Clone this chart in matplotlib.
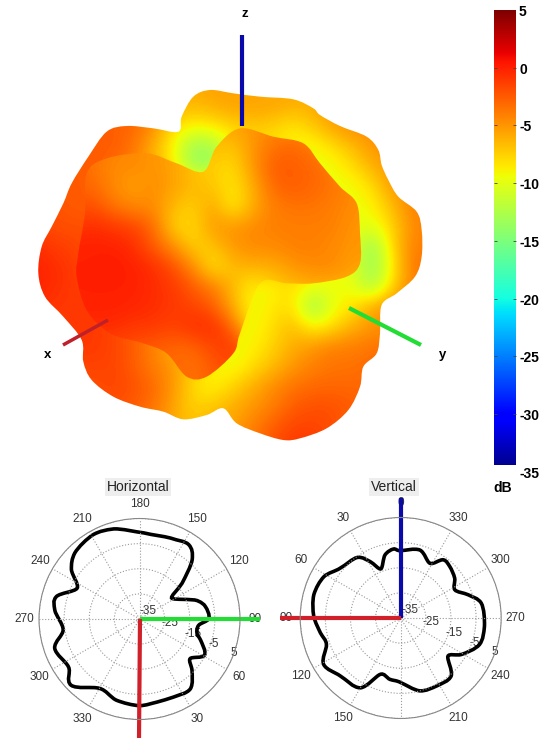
import numpy as np
import matplotlib
matplotlib.use("Agg")
import matplotlib.pyplot as plt
from matplotlib.patches import PathPatch
from matplotlib.path import Path

plt.rcParams['font.family'] = ['Liberation Sans', 'DejaVu Sans']

W, H = 539, 738

# --- pattern surface (x, y in picture pixels times 3, value in dB)
grid_x = [40, 100, 160, 220, 280, 340, 400, 460, 520, 580, 640, 700, 760, 820, 880, 940, 1000, 1060, 1120, 1180, 1240]
grid_y = [260, 320, 380, 440, 500, 560, 620, 680, 740, 800, 860, 920, 980, 1040, 1100, 1160, 1220, 1280, 1340]

back_db = [
    [-5, -5, -5, -5, -4, -3, -4, -6, -6, -5.5, -5.5, -6, -6, -6, -6, -5, -5, -5, -5, -5, -5],
    [-4, -4, -4, -3.5, -3, -3, -4, -6, -6.5, -6, -5.5, -5.5, -5.5, -6, -6, -5, -5, -5, -5, -5, -5],
    [-3, -3, -3, -2.5, -2.5, -3, -4.5, -8, -9, -8.5, -7.5, -7, -7.5, -8.5, -7, -5.5, -4.5, -4.5, -4.5, -4.5, -4.5],
    [-2.5, -2.5, -2.5, -2.5, -2.5, -3.5, -6, -9, -13.5, -13, -9, -8, -8, -9, -9.5, -8, -6.5, -5, -4.5, -4.5, -4.5],
    [-2.5, -2.5, -2.5, -2.5, -3, -4, -6, -8.5, -13.5, -13.5, -9, -8, -8, -9, -9.5, -9.5, -8, -6, -5, -4.5, -4.5],
    [-2.5, -2.5, -2.5, -2.5, -3, -4, -5, -6, -7, -7, -7, -7, -7, -8, -9, -9.5, -9.5, -8, -5, -4.5, -4.5],
    [-2, -2, -2.5, -2.5, -3, -4, -5, -6, -6, -6, -6, -6, -6, -7, -8, -9, -9.5, -9, -6.5, -4, -4],
    [-1.5, -2, -2, -2, -3, -4, -5, -6, -6, -6, -6, -6, -6, -7, -8, -9, -9.5, -10, -7.5, -4.5, -4],
    [-0.5, -1, -1.5, -2, -3, -4, -5, -6, -6, -6, -6, -6, -6, -7, -8, -9, -10, -14, -7.5, -4, -4],
    [0, -0.5, -1, -2, -3, -4, -5, -6, -6, -6, -6, -6, -6, -7, -8, -9, -10, -14, -8.5, -3.5, -3.5],
    [0, -0.5, -1, -1.5, -3, -4, -5, -6, -6, -6, -7, -9.5, -9, -8, -9.5, -9.5, -9.5, -13, -7.5, -4, -4],
    [-0.5, -1, -1, -1, -1.5, -2.5, -4, -6, -6, -6, -7, -9.5, -8.5, -8, -14, -9.5, -8.5, -5.5, -4.5, -4, -4],
    [-1, -1, -1, -1, -1.5, -2.5, -4, -6, -6, -6, -8, -9.5, -8, -6.5, -9, -8, -6, -5, -4.5, -4.5, -4.5],
    [-1, -1, -1, -1, -1.5, -2.5, -4, -6, -7, -8, -9.5, -9, -7.5, -6, -5, -4, -4, -3.5, -3.5, -3.5, -3.5],
    [-1.5, -1.5, -1.5, -1.5, -1.5, -2.5, -4, -5, -7, -9, -9.5, -8, -6.5, -5, -4, -3.5, -3.5, -3, -3, -3, -3],
    [-2, -2, -2, -2, -1.5, -2, -3, -5, -8, -9, -7.5, -6, -4.5, -3.5, -3, -3, -3, -3, -3, -3, -3],
    [-2, -2, -2, -2, -2, -2.5, -3.5, -5.5, -7.5, -7, -6, -5, -4, -2.5, -2, -2, -2.5, -3, -3, -3, -3],
    [-2.5, -2.5, -2.5, -2.5, -2.5, -3, -4, -6, -7, -6, -5.5, -4, -2.5, -1.5, -1.5, -2, -3, -3, -3, -3, -3],
    [-2.5, -2.5, -2.5, -2.5, -2.5, -3, -4, -6, -7, -6, -5, -3.5, -2, -1, -1, -2, -3, -3, -3, -3, -3],
]

front_db = [
    [-3, -3, -3, -3, -4, -5, -5, -5, -6, -6, -5.5, -5, -5, -5, -4, -5, -5, -5, -5, -5, -5],
    [-3, -3, -3, -3, -4, -5, -5, -5, -6, -6, -5.5, -5, -5, -5, -4, -5, -5, -5, -5, -5, -5],
    [-3, -3, -3, -3, -4, -4.5, -5, -5.5, -6, -6, -5.5, -5, -4.5, -4.5, -4.5, -5, -5, -5, -5, -5, -5],
    [-3, -3, -3, -3.5, -4, -4.5, -5, -5.5, -6.5, -6.5, -7, -5, -3.5, -3, -4, -5, -5, -5, -5, -5, -5],
    [-3, -3, -3, -3.5, -4.5, -4.5, -5, -5.5, -7, -7.5, -8, -5, -2.5, -2.5, -3, -4, -5, -5, -5, -5, -5],
    [-3, -3, -3, -3, -4.5, -5.5, -4.5, -5.5, -6.5, -7, -8.5, -6, -3, -2.5, -3, -3.5, -4.5, -5, -5, -5, -5],
    [-2, -2, -2, -2, -3.5, -4.5, -4.5, -6.5, -7.5, -5.5, -9, -6, -4, -3.5, -3.5, -4, -4.5, -5, -5, -5, -5],
    [-1, -1, -1, -0.5, -1, -1.5, -3, -7.5, -8, -5, -5, -4.5, -4, -4, -4, -4, -5, -5, -5, -5, -5],
    [0, 0, 0, 0, 0, -0.5, -2.5, -4.5, -7.5, -7, -5, -4.5, -4.5, -4, -4, -4.5, -5, -5, -5, -5, -5],
    [0, 0, 0, 0, 0.2, 0, -0.5, -2, -4.5, -8.5, -6.5, -6, -6, -5, -4.5, -4.5, -5.5, -5.5, -5, -5, -5],
    [0, 0, 0, 0, 0, 0, -0.5, -1, -2.5, -4, -6.5, -9, -7.5, -6.5, -6, -6, -6, -6, -6, -6, -6],
    [0, 0, 0, 0, 0, -0.2, -0.5, -1, -1.5, -2.5, -6, -9.5, -8, -8, -8, -8, -8, -8, -8, -8, -8],
    [-0.5, -0.5, -0.5, -0.5, -0.5, -1, -1, -1.5, -0.5, -0.5, -3, -9, -8, -8, -8, -8, -8, -8, -8, -8, -8],
    [-1.5, -1.5, -1.5, -1.5, -1.5, -2, -2.5, -3, -3, -1.5, -1, -3.5, -9, -8, -8, -8, -8, -8, -8, -8, -8],
    [-2, -2, -2, -2, -2, -2.5, -3, -3, -3.5, -2.5, -1.5, -2.5, -6, -9, -8, -8, -8, -8, -8, -8, -8],
    [-2, -2, -2, -2, -2, -2.5, -3, -3, -3.5, -2.5, -2, -4, -7, -9, -8, -8, -8, -8, -8, -8, -8],
    [-2, -2, -2, -2, -2, -2.5, -3, -3, -3.5, -2.5, -2, -4, -7, -9, -8, -8, -8, -8, -8, -8, -8],
    [-2, -2, -2, -2, -2, -2.5, -3, -3, -3.5, -2.5, -2, -4, -7, -9, -8, -8, -8, -8, -8, -8, -8],
    [-2, -2, -2, -2, -2, -2.5, -3, -3, -3.5, -2.5, -2, -4, -7, -9, -8, -8, -8, -8, -8, -8, -8],
]

outline_x = [570, 640, 720, 820, 880, 900, 960, 1040, 1075, 1085, 1105, 1135, 1190, 1205, 1205, 1185,
             1130, 1085, 1080, 1070, 1030, 1020, 985, 920, 840, 790, 720, 650, 610, 560, 490, 430,
             360, 280, 215, 190, 185, 130, 75, 55, 65, 95, 130, 155, 205, 260, 320, 400, 475, 485, 520]
outline_y = [270, 280, 290, 298, 325, 345, 378, 410, 450, 495, 540, 590, 635, 690, 770, 830,
             880, 915, 1000, 1060, 1100, 1160, 1230, 1285, 1315, 1320, 1300, 1270, 1225, 1245, 1258, 1235,
             1220, 1190, 1140, 1085, 1020, 950, 890, 820, 740, 680, 610, 550, 470, 395, 378, 385, 395, 350, 290]

front_x = [195, 200, 260, 380, 470, 550, 590, 660, 760, 850, 900, 960, 1010, 1020, 1020, 980, 880, 800, 720,
           660, 640, 560, 500, 440, 370, 270, 200, 170, 175]
front_y = [640, 520, 475, 460, 490, 515, 440, 385, 410, 430, 490, 560, 610, 700, 790, 830, 850, 850, 850,
           1000, 1060, 1130, 1130, 1060, 1030, 1000, 930, 830, 760]

# --- colour bar
bar_ticks = [5, 0, -5, -10, -15, -20, -25, -30, -35]
bar_labels = ['5', '0', '-5', '-10', '-15', '-20', '-25', '-30', '-35']

# --- cuts (theta in degrees, gain in dB)
horiz_theta = [0, 11.8, 23.6, 36, 45.7, 52, 61, 71, 76, 84, 90.5, 100.6, 107.7, 122.6, 130, 138.4, 146.5,
               159, 177, 196, 208.7, 224.4, 234, 243.7, 255, 264, 278, 289, 304, 314, 330, 344, 360]
horiz_db = [-0.5, -1.2, -1.1, -0.6, -5.8, -9.4, -5.4, -9.3, -11.4, -11.3, -7.4, -8.3, -10.9, -19.7, -12.9, -3.4, 0.5,
            -0.5, -0.7, 2.3, 3.3, 1.8, -1.5, -7.3, -0.7, -1.1, -4.3, 0.7, -0.9, 2.9, -3.1, -1.4, -0.5]

vert_theta = [0, 6, 13.9, 22, 28.4, 35.4, 50.5, 61.7, 75, 89, 100.5, 109.7, 121, 134, 150, 160, 170, 180,
              194.8, 207.8, 221, 231, 239, 251.4, 264.4, 280.5, 289, 297.5, 306.4, 316.3, 323.8, 331.9, 344.2, 360]
vert_db = [-8.2, -7.4, -9.1, -13.9, -9.5, -5.4, -3.8, -0.3, 0.8, -0.4, -2.5, -3.6, 0.8, -1.7, -2.9, -11.1, -10.2, -9.3,
           -5, -4.4, -4.4, -10.8, -6.8, -1.9, -1.5, -2.4, -6.6, -10.7, -8.3, -6.7, -6.3, -10.3, -6.9, -8.2]

r_ticks = [-35, -25, -15, -5, 5]
r_labels = ['-35', '-25', '-15', '-5', '5']


def add_ax(left, top, right, bottom, **kw):
    return plt.gcf().add_axes([left / W, 1 - bottom / H, (right - left) / W, (bottom - top) / H], **kw)


def smooth_closed(x, y):
    # closed Catmull-Rom through the read points; last point is the first one again (maybe a turn later)
    p = np.column_stack([x, y]).astype(float)
    span = p[-1] - p[0]
    before = p[-2] - span
    after = p[1] + span
    full = np.vstack([before, p, after])
    tang = (full[2:] - full[:-2]) / 2
    verts = [p[0]]
    codes = [Path.MOVETO]
    for i in range(len(p) - 1):
        verts += [p[i] + tang[i] / 3, p[i + 1] - tang[i + 1] / 3, p[i + 1]]
        codes += [Path.CURVE4] * 3
    return Path(np.array(verts), codes)


def draw_layer(ax, values, clip_x, clip_y):
    # the image goes through a 3x scale: the picture crop started at x=20
    dx = grid_x[1] - grid_x[0]
    dy = grid_y[1] - grid_y[0]
    extent = [20 + (grid_x[0] - dx / 2) / 3, 20 + (grid_x[-1] + dx / 2) / 3,
              (grid_y[-1] + dy / 2) / 3, (grid_y[0] - dy / 2) / 3]
    im = ax.imshow(values, cmap='jet', vmin=-35, vmax=5, extent=extent, aspect='auto',
                   interpolation='bicubic', origin='upper')
    px = 20 + np.array(clip_x + clip_x[:1]) / 3
    py = np.array(clip_y + clip_y[:1]) / 3
    clip = PathPatch(smooth_closed(px, py), transform=ax.transData)
    im.set_clip_path(clip)


def polar_plot(cx, cy, title, title_x, theta, db, zero, hidden, lines, label_angle, offsets):
    R = 100.5
    ax = add_ax(cx - R, cy - R, cx + R, cy + R, projection='polar')
    ax.set_theta_zero_location(zero)
    ax.set_ylim(-35, 5)
    angles = [a for a in range(0, 360, 30)]
    ax.set_thetagrids(angles, ['' if a == hidden else str(a) for a in angles], color='#333333', fontsize=8.5)
    ax.tick_params(axis='x', pad=0)
    ax.set_rgrids(r_ticks, [''] * 5)
    ax.grid(True, color='#999999', linestyle=':', linewidth=0.8)
    ax.spines['polar'].set_color('#888888')
    ax.spines['polar'].set_linewidth(0.8)

    for i, lab in enumerate(r_labels):
        ax.annotate(lab, xy=(np.radians(label_angle), r_ticks[i]), xytext=offsets[i], textcoords='offset pixels',
                    ha='center', va='center', color='#333333', fontsize=8.5, zorder=0.5)
    curve = smooth_closed(np.radians(theta), db)
    ax.add_patch(PathPatch(curve, fill=False, edgecolor='black', linewidth=2.6, zorder=1))
    for ang, length, col in lines:
        ax.plot([np.radians(ang), np.radians(ang)], [-35, length], color=col, linewidth=3, clip_on=False, zorder=2,
                solid_capstyle='butt')
    fig.text(title_x / W, 1 - 487 / H, title, ha='center', va='center', fontsize=10, color='#222222',
             bbox=dict(facecolor='#eeeeee', edgecolor='none', pad=1.5))


fig = plt.figure(figsize=(W / 100, H / 100), dpi=100)

ax = fig.add_axes([0, 0, 1, 1])
draw_layer(ax, back_db, outline_x, outline_y)
draw_layer(ax, front_db, front_x, front_y)
ax.plot([242, 242], [35, 126], color='#0a0aaa', linewidth=3, solid_capstyle='butt')
ax.plot([63, 108], [345, 320], color='#c0202a', linewidth=2.5, solid_capstyle='butt')
ax.plot([349, 421], [308, 345], color='#22dd33', linewidth=3, solid_capstyle='butt')
ax.text(245, 14, 'z', fontsize=9.5, fontweight='bold', ha='center', va='center')
ax.text(48, 355, 'x', fontsize=9.5, fontweight='bold', ha='center', va='center')
ax.text(443, 355, 'y', fontsize=9.5, fontweight='bold', ha='center', va='center')
ax.set_xlim(0, W)
ax.set_ylim(H, 0)
ax.axis('off')

# colour bar: the drawn strip stops a little short of the -35 tick
cax = add_ax(494, 10, 516, 465)
gradient = np.linspace(5, -35, 256).reshape(-1, 1)
cax.imshow(gradient, cmap='jet', vmin=-35, vmax=5, extent=[0, 1, -35, 5], aspect='auto')
cax.set_ylim(-34.4, 5)
cax.set_xlim(0, 1)
cax.set_xticks([])
cax.set_yticks([v for v in bar_ticks if -34.4 < v < 5])
cax.set_yticklabels([])
cax.tick_params(axis='y', length=2, width=0.6, color='#444444', direction='in', left=True, right=True)
for s in cax.spines.values():
    s.set_visible(False)
for v, lab in zip(bar_ticks, bar_labels):
    cax.annotate(lab, xy=(1, v), xytext=(3, -2), textcoords='offset pixels', ha='left', va='center',
                 fontsize=10, fontweight='bold', annotation_clip=False)
cax.annotate('dB', xy=(0.5, -35), xytext=(-2, -16), textcoords='offset pixels', ha='center', va='center',
             fontsize=10, fontweight='bold', annotation_clip=False)

polar_plot(139.5, 619, 'Horizontal', 138, horiz_theta, horiz_db, 'S', 0,
           [(90, 13, '#22dd33'), (0, 13, '#d0202a')], 70,
           [(9, 8), (7, 5), (6, 2), (3, 1), (0, 0)])
polar_plot(400.7, 618, 'Vertical', 394, vert_theta, vert_db, 'N', 180,
           [(0, 12.8, '#0a0aaa'), (90, 13, '#d0202a')], 250,
           [(9, 8), (7, 5), (6, 2), (3, 1), (0, 0)])

plt.savefig('out.png', dpi=100)
